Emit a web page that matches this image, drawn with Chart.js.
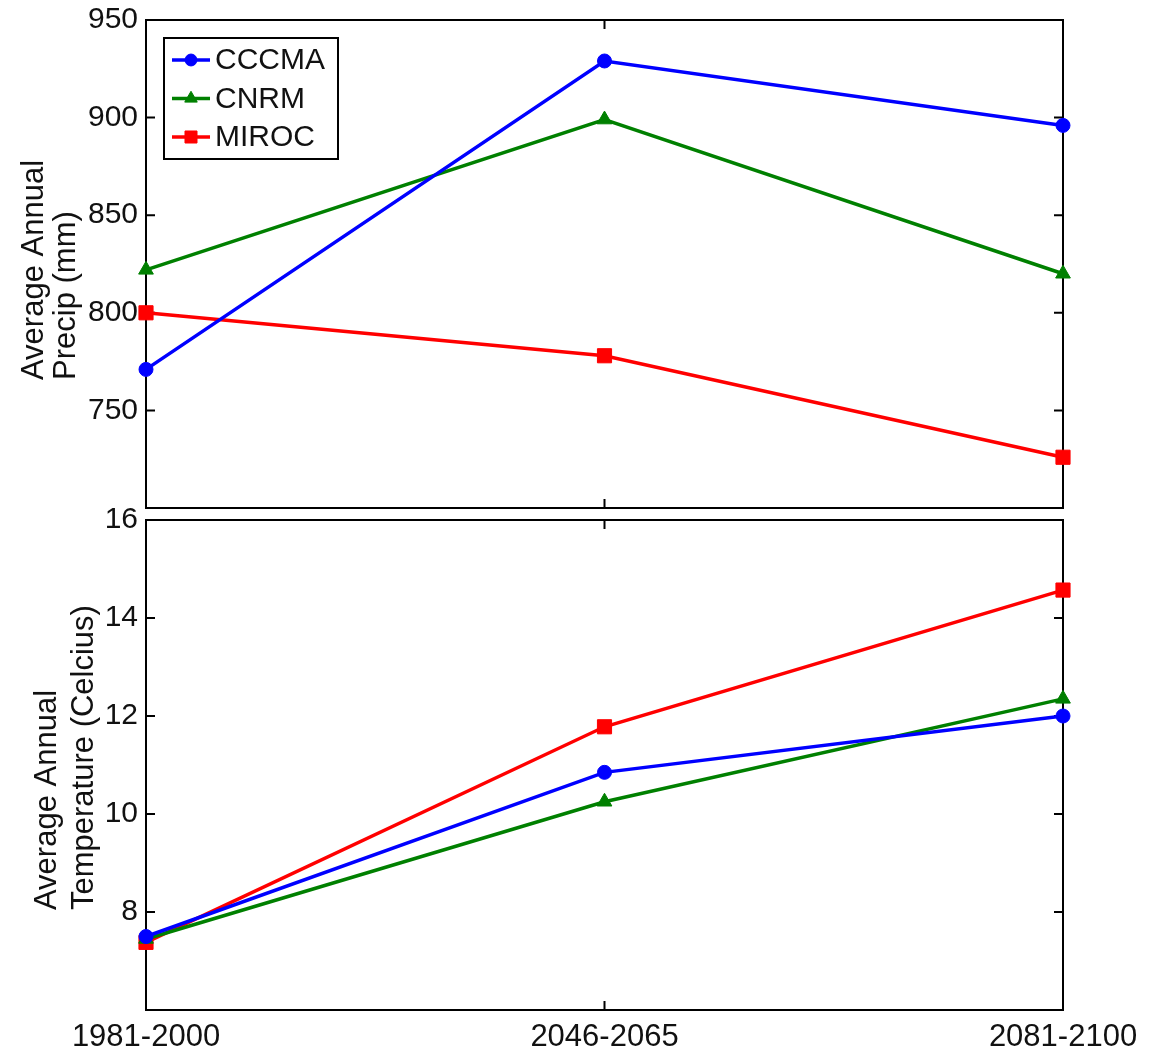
<!DOCTYPE html>
<html>
<head>
<meta charset="utf-8">
<script src="https://cdn.jsdelivr.net/npm/chart.js@4.4.0/dist/chart.umd.min.js"></script>
<style>
  html, body { margin: 0; padding: 0; background: #fff; overflow: hidden; }
  #wrap { position: relative; width: 1153px; height: 1048px; overflow: hidden; }
  canvas { position: absolute; left: 0; }
  #precipChart { top: -30px; }
  #tempChart { top: 0; }
</style>
</head>
<body>
<div id="wrap">
  <canvas id="precipChart" width="1153" height="1078"></canvas>
  <canvas id="tempChart" width="1153" height="1048"></canvas>
</div>
<script>
// periods (x categories)
var periods = ['1981-2000', '2046-2065', '2081-2100'];
var models = ['CCCMA', 'CNRM', 'MIROC'];

// average annual precip (mm)
var precipCCCMA = [771, 929, 896];
var precipCNRM = [822, 899, 820];
var precipMIROC = [800, 778, 726];

// average annual temperature (Celcius)
var tempCCCMA = [7.5, 10.85, 12.0];
var tempCNRM = [7.45, 10.25, 12.35];
var tempMIROC = [7.38, 11.78, 14.57];

// axis ticks
var precipTicks = [700, 750, 800, 850, 900, 950];
var tempTicks = [6, 8, 10, 12, 14, 16];

var FONT = 'Liberation Sans, Arial, sans-serif';
var TEXT = '#111';
var SHIFT = 30; // top canvas is moved up by this much

var styles = [
    { color: '#0000ff', shape: 'circle', radius: 7 },
    { color: '#008000', shape: 'triangle', radius: 8.5 },
    { color: '#ff0000', shape: 'rect', radius: 10 }
];

function makeDatasets(series) {
    return series.map(function(values, i) {
        var s = styles[i];
        return {
            label: models[i],
            data: values,
            borderColor: s.color,
            backgroundColor: s.color,
            borderWidth: 3.5,
            pointStyle: s.shape,
            pointRadius: s.radius,
            pointHoverRadius: s.radius,
            pointBorderWidth: 1,
            pointBackgroundColor: s.color,
            pointBorderColor: s.color,
            tension: 0,
            clip: false
        };
    });
}

// frame + inward ticks, MATLAB style
var framePlugin = {
    id: 'frame',
    beforeDatasetsDraw: function(chart) {
        var a = chart.chartArea;
        var ctx = chart.ctx;
        var ys = chart.scales.y;
        var xs = chart.scales.x;
        var tl = 9;
        ctx.save();
        ctx.strokeStyle = '#000';
        ctx.lineWidth = 2;
        ctx.strokeRect(a.left, a.top, a.right - a.left, a.bottom - a.top);
        ctx.beginPath();
        ys.ticks.forEach(function(t) {
            var y = ys.getPixelForValue(t.value);
            ctx.moveTo(a.left, y); ctx.lineTo(a.left + tl, y);
            ctx.moveTo(a.right, y); ctx.lineTo(a.right - tl, y);
        });
        for (var i = 0; i < periods.length; i++) {
            var x = xs.getPixelForValue(i);
            ctx.moveTo(x, a.bottom); ctx.lineTo(x, a.bottom - tl);
            ctx.moveTo(x, a.top); ctx.lineTo(x, a.top + tl);
        }
        ctx.stroke();
        ctx.restore();
    }
};

// two-line rotated y title, left aligned like the original
var titlePlugin = {
    id: 'ytitle',
    afterDraw: function(chart, args, opts) {
        var ctx = chart.ctx;
        ctx.save();
        ctx.fillStyle = TEXT;
        ctx.font = '31px ' + FONT;
        ctx.textAlign = 'left';
        ctx.textBaseline = 'middle';
        opts.lines.forEach(function(line, i) {
            ctx.save();
            ctx.translate(opts.x[i], opts.y);
            ctx.rotate(-Math.PI / 2);
            ctx.fillText(line, 0, 0);
            ctx.restore();
        });
        ctx.restore();
    }
};

// boxed legend inside the top plot
var legendPlugin = {
    id: 'boxLegend',
    afterDraw: function(chart, args, opts) {
        if (!opts.show) return;
        var ctx = chart.ctx;
        var top = chart.chartArea.top;
        ctx.save();
        ctx.fillStyle = '#fff';
        ctx.fillRect(164, top + 18, 174, 121);
        ctx.strokeStyle = '#000';
        ctx.lineWidth = 2;
        ctx.strokeRect(164, top + 18, 174, 121);
        chart.data.datasets.forEach(function(ds, i) {
            var y = top + 40 + i * 38.5;
            ctx.strokeStyle = ds.borderColor;
            ctx.lineWidth = 3.5;
            ctx.beginPath();
            ctx.moveTo(172, y); ctx.lineTo(210, y);
            ctx.stroke();
            ctx.fillStyle = ds.borderColor;
            ctx.lineWidth = 1;
            Chart.helpers.drawPoint(ctx, { pointStyle: ds.pointStyle, radius: ds.pointRadius * 0.85, borderWidth: 1, rotation: 0 }, 191, y);
            ctx.fillStyle = TEXT;
            ctx.font = '30px ' + FONT;
            ctx.textAlign = 'left';
            ctx.textBaseline = 'middle';
            ctx.fillText(ds.label, 215, y + 1);
        });
        ctx.restore();
    }
};

function yScale(min, max, step) {
    return {
        min: min,
        max: max,
        afterBuildTicks: function(scale) {
            scale.ticks = scale.ticks.filter(function(t) { return t.value !== min; });
        },
        afterFit: function(scale) { scale.width = 146; },
        ticks: {
            stepSize: step,
            padding: 8,
            color: TEXT,
            font: { family: FONT, size: 30 }
        },
        grid: { display: false, drawTicks: false },
        border: { display: false }
    };
}

var precipChart = new Chart(document.getElementById('precipChart'), {
    type: 'line',
    data: {
        labels: periods,
        datasets: makeDatasets([precipCCCMA, precipCNRM, precipMIROC])
    },
    options: {
        responsive: false,
        animation: false,
        layout: { padding: { top: 20 + SHIFT, right: 90, bottom: 540, left: 0 } },
        scales: {
            x: { display: false, offset: false },
            y: yScale(precipTicks[0], precipTicks[precipTicks.length - 1], 50)
        },
        plugins: {
            legend: { display: false },
            tooltip: { enabled: false },
            ytitle: { lines: ['Average Annual', 'Precip (mm)'], x: [34, 66], y: 380 + SHIFT },
            boxLegend: { show: true }
        }
    },
    plugins: [framePlugin, titlePlugin, legendPlugin]
});

var tempChart = new Chart(document.getElementById('tempChart'), {
    type: 'line',
    data: {
        labels: periods,
        datasets: makeDatasets([tempCCCMA, tempCNRM, tempMIROC])
    },
    options: {
        responsive: false,
        animation: false,
        layout: { padding: { top: 520, right: 90, bottom: 0, left: 0 } },
        scales: {
            x: {
                offset: false,
                afterFit: function(scale) { scale.height = 38; },
                ticks: {
                    padding: 9,
                    maxRotation: 0,
                    autoSkip: false,
                    color: TEXT,
                    font: { family: FONT, size: 31 }
                },
                grid: { display: false, drawTicks: false },
                border: { display: false }
            },
            y: yScale(tempTicks[0], tempTicks[tempTicks.length - 1], 2)
        },
        plugins: {
            legend: { display: false },
            tooltip: { enabled: false },
            ytitle: { lines: ['Average Annual', 'Temperature (Celcius)'], x: [47, 84], y: 910 },
            boxLegend: { show: false }
        }
    },
    plugins: [framePlugin, titlePlugin, legendPlugin]
});
</script>
</body>
</html>
